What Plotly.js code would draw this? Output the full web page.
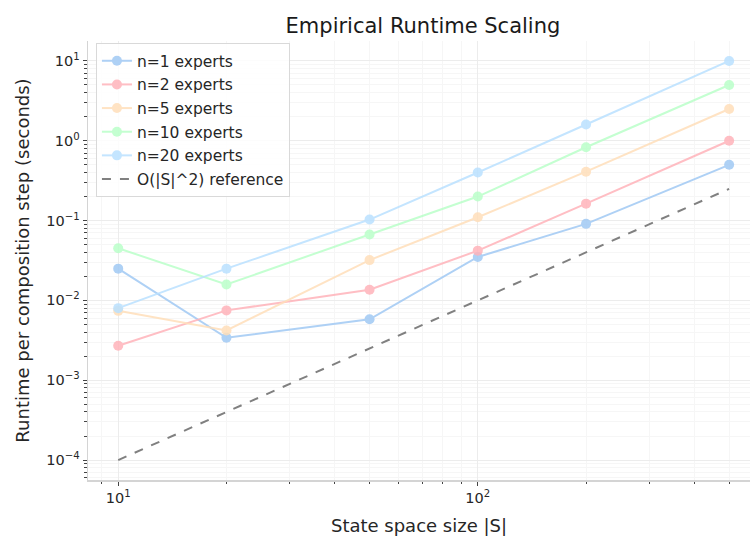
<!DOCTYPE html>
<html>
<head>
<meta charset="utf-8">
<script src="https://cdn.plot.ly/plotly-3.0.1.min.js"></script>
<style>html,body{margin:0;padding:0;background:#fff;}#chart{width:750px;height:537px;}</style>
</head>
<body>
<div id="chart"></div>
<script>
// State space sizes |S|
const stateSizes = [10, 20, 50, 100, 200, 500];

// Runtime per composition step (seconds) per number of experts
const runtimeN1  = [0.025, 0.0034, 0.0058, 0.035, 0.091, 0.5];
const runtimeN2  = [0.0027, 0.0075, 0.0136, 0.042, 0.163, 1.0];
const runtimeN5  = [0.0074, 0.0042, 0.032, 0.11, 0.41, 2.5];
const runtimeN10 = [0.045, 0.0158, 0.067, 0.2, 0.83, 5.0];
const runtimeN20 = [0.008, 0.025, 0.103, 0.4, 1.6, 10.0];

// O(|S|^2) reference values
const referenceVals = [0.0001, 0.0004, 0.0025, 0.01, 0.04, 0.25];

const seriesNames = ["n=1 experts", "n=2 experts", "n=5 experts", "n=10 experts", "n=20 experts"];
const referenceName = "O(|S|^2) reference";

// Tick labels
const yTickVals = [0.0001, 0.001, 0.01, 0.1, 1, 10];
const yTickText = ["10<sup>\u22124</sup>", "10<sup>\u22123</sup>", "10<sup>\u22122</sup>", "10<sup>\u22121</sup>", "10<sup>0</sup>", "10<sup>1</sup>"];
const xTickVals = [10, 100];
const xTickText = ["10<sup>1</sup>", "10<sup>2</sup>"];

const colors = ["#a1c9f4", "#ffb3ba", "#ffdfba", "#baffc9", "#bae1ff"];
const seriesVals = [runtimeN1, runtimeN2, runtimeN5, runtimeN10, runtimeN20];

function minorTicks(startExp, endExp) {
  const out = [];
  for (let e = startExp; e <= endExp; e++) {
    for (let m = 2; m <= 9; m++) out.push(m * Math.pow(10, e));
  }
  return out;
}

const traces = seriesVals.map((vals, i) => ({
  x: stateSizes, y: vals, name: seriesNames[i], type: "scatter", mode: "lines+markers",
  line: {color: colors[i], width: 2}, marker: {color: colors[i], size: 10},
  opacity: 0.85, legendgroup: "g" + i
}));
traces.push({
  x: stateSizes, y: referenceVals, name: referenceName, type: "scatter", mode: "lines",
  line: {color: "#808080", width: 2, dash: "dash"}, legendgroup: "ref"
});

const gridMajor = "#ececec";
const gridMinor = "#f6f6f6";

const layout = {
  width: 750, height: 537,
  margin: {l: 88, r: 0, t: 41, b: 57},
  paper_bgcolor: "#ffffff", plot_bgcolor: "#ffffff",
  font: {family: "DejaVu Sans", color: "#262626"},
  title: {text: "Empirical Runtime Scaling", font: {size: 21, color: "#1a1a1a"}, x: 0.506, xanchor: "center", y: 0.952, yanchor: "middle", xref: "paper"},
  xaxis: {
    type: "log", range: [0.916, 2.757],
    tickmode: "array", tickvals: xTickVals, ticktext: xTickText,
    ticks: "outside", ticklen: 4, tickwidth: 1, tickcolor: "#444",
    tickfont: {size: 14.5},
    showgrid: true, gridcolor: gridMajor, gridwidth: 1,
    showline: true, linecolor: "#d4d4d4", linewidth: 1.5, mirror: false,
    zeroline: false,
    minor: {tickmode: "array", tickvals: minorTicks(0, 2), ticks: "outside", ticklen: 2.5, tickcolor: "#444", showgrid: true, gridcolor: gridMinor},
    title: {text: "State space size |S|", font: {size: 18}, standoff: 14}
  },
  yaxis: {
    type: "log", range: [-4.25, 1.25],
    tickmode: "array", tickvals: yTickVals, ticktext: yTickText,
    ticks: "outside", ticklen: 4, tickwidth: 1, tickcolor: "#444",
    tickfont: {size: 14.5},
    showgrid: true, gridcolor: gridMajor, gridwidth: 1,
    showline: true, linecolor: "#d4d4d4", linewidth: 1.5, mirror: false,
    zeroline: false,
    minor: {tickmode: "array", tickvals: minorTicks(-5, 1), ticks: "outside", ticklen: 2.5, tickcolor: "#444", showgrid: true, gridcolor: gridMinor},
    title: {text: "Runtime per composition step (seconds)", font: {size: 18}, standoff: 12}
  },
  legend: {
    x: 0.012, y: 0.995, xanchor: "left", yanchor: "top",
    bgcolor: "rgba(255,255,255,0.85)", bordercolor: "#d9d9d9", borderwidth: 1,
    font: {size: 15.5, color: "#262626"}, tracegroupgap: 0.5, traceorder: "grouped"
  },
  showlegend: true
};

Plotly.newPlot("chart", traces, layout, {staticPlot: true, displayModeBar: false});
</script>
</body>
</html>
